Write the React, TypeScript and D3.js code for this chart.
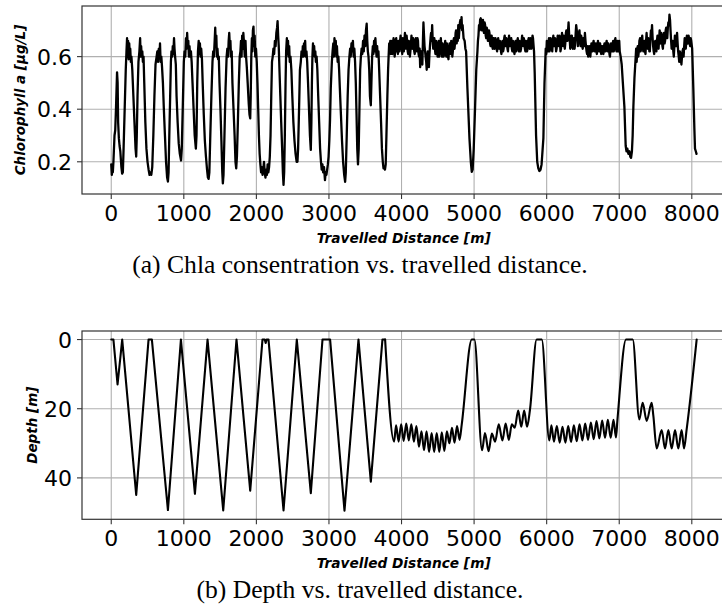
import React from 'react';
import * as d3 from 'd3';

const distanceTicks = [0, 1000, 2000, 3000, 4000, 5000, 6000, 7000, 8000];
const chlaTicks = [0.2, 0.4, 0.6];
const depthTicks = [0, 20, 40];

// Chl-a [distance m, value µg/L] – yo-yo section
const chlaYoyo: [number, number][] = [
  [0, 0.19], [8, 0.15], [15, 0.18], [22, 0.16], [30, 0.2], [45, 0.3], [55, 0.32], [65, 0.4], [80, 0.54], [88, 0.5],
  [95, 0.35], [105, 0.29], [115, 0.26], [125, 0.24], [140, 0.18], [150, 0.155], [160, 0.16], [170, 0.25], [185, 0.4],
  [200, 0.55], [210, 0.62], [218, 0.67], [225, 0.6], [232, 0.66], [240, 0.59], [248, 0.65], [256, 0.6], [262, 0.63],
  [270, 0.58], [278, 0.6], [290, 0.55], [305, 0.45], [320, 0.35], [335, 0.25], [344, 0.22], [352, 0.3], [362, 0.45],
  [375, 0.58], [388, 0.62], [398, 0.67], [405, 0.6], [412, 0.64], [420, 0.6], [428, 0.62], [436, 0.58], [445, 0.6],
  [455, 0.5], [470, 0.35], [485, 0.25], [500, 0.2], [515, 0.17], [528, 0.15], [540, 0.16], [552, 0.15], [565, 0.18],
  [580, 0.3], [595, 0.45], [610, 0.57], [625, 0.6], [635, 0.62], [645, 0.58], [655, 0.63], [665, 0.6], [672, 0.65],
  [680, 0.58], [690, 0.6], [700, 0.56], [712, 0.5], [725, 0.4], [740, 0.3], [755, 0.2], [770, 0.14], [781, 0.125],
  [790, 0.16], [800, 0.3], [812, 0.45], [822, 0.58], [830, 0.62], [840, 0.6], [848, 0.64], [856, 0.61], [865, 0.67],
  [872, 0.63], [880, 0.6], [890, 0.57], [900, 0.45], [915, 0.35], [930, 0.27], [945, 0.23], [962, 0.205], [972, 0.25],
  [985, 0.4], [1000, 0.58], [1010, 0.62], [1020, 0.6], [1030, 0.67], [1038, 0.63], [1046, 0.69], [1054, 0.64],
  [1062, 0.66], [1070, 0.6], [1078, 0.64], [1088, 0.6], [1098, 0.62], [1108, 0.58], [1120, 0.5], [1135, 0.4],
  [1150, 0.3], [1166, 0.25], [1175, 0.3], [1185, 0.5], [1195, 0.62], [1205, 0.66], [1213, 0.61], [1222, 0.65],
  [1230, 0.6], [1240, 0.63], [1250, 0.59], [1260, 0.5], [1275, 0.38], [1290, 0.28], [1305, 0.22], [1320, 0.17],
  [1332, 0.14], [1342, 0.135], [1352, 0.16], [1365, 0.3], [1380, 0.45], [1395, 0.58], [1405, 0.62], [1415, 0.6],
  [1425, 0.66], [1433, 0.71], [1440, 0.64], [1448, 0.68], [1456, 0.6], [1464, 0.63], [1472, 0.59], [1482, 0.6],
  [1492, 0.5], [1505, 0.4], [1518, 0.28], [1530, 0.16], [1538, 0.118], [1547, 0.15], [1560, 0.3], [1575, 0.48],
  [1590, 0.6], [1600, 0.63], [1610, 0.6], [1618, 0.66], [1626, 0.69], [1634, 0.64], [1642, 0.66], [1650, 0.6],
  [1660, 0.62], [1670, 0.5], [1685, 0.4], [1700, 0.3], [1712, 0.2], [1722, 0.175], [1732, 0.22], [1745, 0.35],
  [1758, 0.5], [1770, 0.6], [1780, 0.62], [1788, 0.66], [1796, 0.6], [1804, 0.68], [1812, 0.63], [1820, 0.69],
  [1830, 0.65], [1840, 0.6], [1850, 0.66], [1858, 0.6], [1868, 0.56], [1880, 0.5], [1895, 0.42], [1905, 0.38],
  [1915, 0.365], [1922, 0.45], [1930, 0.6], [1938, 0.67], [1945, 0.62], [1952, 0.7], [1960, 0.714], [1968, 0.64],
  [1976, 0.68], [1985, 0.6], [1995, 0.63], [2005, 0.58], [2015, 0.5], [2025, 0.4], [2035, 0.3], [2045, 0.23],
  [2055, 0.19], [2065, 0.16], [2075, 0.18], [2085, 0.15], [2095, 0.17], [2105, 0.2], [2115, 0.16], [2125, 0.14],
  [2135, 0.17], [2145, 0.15], [2155, 0.19], [2165, 0.16], [2175, 0.18], [2185, 0.22], [2195, 0.3], [2205, 0.45],
  [2215, 0.58], [2225, 0.6], [2235, 0.63], [2245, 0.61], [2255, 0.66], [2265, 0.64], [2275, 0.69], [2285, 0.71],
  [2292, 0.735], [2300, 0.68], [2308, 0.64], [2318, 0.55], [2330, 0.45], [2342, 0.35], [2355, 0.25], [2365, 0.16],
  [2374, 0.112], [2383, 0.16], [2392, 0.3], [2402, 0.5], [2410, 0.62], [2420, 0.67], [2428, 0.61], [2436, 0.66],
  [2444, 0.6], [2452, 0.64], [2460, 0.58], [2470, 0.6], [2482, 0.55], [2495, 0.45], [2510, 0.35], [2525, 0.28],
  [2540, 0.23], [2555, 0.2], [2566, 0.2], [2575, 0.25], [2588, 0.4], [2600, 0.55], [2612, 0.58], [2622, 0.62],
  [2632, 0.6], [2640, 0.64], [2648, 0.6], [2656, 0.65], [2664, 0.62], [2672, 0.66], [2680, 0.6], [2690, 0.62],
  [2700, 0.58], [2712, 0.5], [2725, 0.4], [2738, 0.3], [2750, 0.245], [2758, 0.35], [2765, 0.5], [2772, 0.6],
  [2780, 0.65], [2788, 0.61], [2796, 0.64], [2804, 0.6], [2812, 0.62], [2820, 0.58], [2830, 0.6], [2840, 0.55],
  [2852, 0.45], [2865, 0.35], [2878, 0.25], [2890, 0.2], [2900, 0.17], [2910, 0.19], [2920, 0.16], [2932, 0.18],
  [2945, 0.13], [2955, 0.16], [2965, 0.15], [2975, 0.17], [2985, 0.19], [2995, 0.22], [3005, 0.28], [3015, 0.36],
  [3025, 0.48], [3040, 0.58], [3050, 0.62], [3060, 0.65], [3068, 0.6], [3076, 0.67], [3085, 0.63], [3094, 0.66],
  [3102, 0.6], [3110, 0.64], [3120, 0.58], [3130, 0.6], [3140, 0.55], [3150, 0.48], [3165, 0.38], [3180, 0.28],
  [3195, 0.2], [3210, 0.15], [3223, 0.124], [3232, 0.16], [3245, 0.3], [3258, 0.45], [3270, 0.55], [3282, 0.6],
  [3292, 0.63], [3300, 0.6], [3310, 0.65], [3320, 0.62], [3330, 0.66], [3340, 0.6], [3350, 0.63], [3360, 0.58],
  [3370, 0.5], [3380, 0.38], [3390, 0.25], [3400, 0.19], [3410, 0.25], [3420, 0.4], [3430, 0.55], [3440, 0.6],
  [3450, 0.63], [3460, 0.61], [3470, 0.66], [3480, 0.62], [3490, 0.68], [3500, 0.64], [3510, 0.7], [3520, 0.725],
  [3528, 0.66], [3536, 0.62], [3545, 0.6], [3555, 0.55], [3565, 0.45], [3577, 0.415], [3585, 0.5], [3595, 0.6],
  [3605, 0.64], [3613, 0.61], [3622, 0.66], [3630, 0.62], [3640, 0.67], [3648, 0.63], [3656, 0.6], [3664, 0.64],
  [3672, 0.6], [3682, 0.62], [3692, 0.55], [3705, 0.45], [3718, 0.35], [3730, 0.25], [3742, 0.2], [3752, 0.175],
  [3762, 0.18], [3772, 0.17], [3782, 0.19], [3792, 0.3], [3805, 0.45], [3815, 0.55],
];

// Chl-a – surface-following section
const chlaGlide: [number, number][] = [
  [3822, 0.6], [3830, 0.65], [3837, 0.62], [3845, 0.66], [3852, 0.61], [3860, 0.64], [3867, 0.66], [3875, 0.61],
  [3882, 0.63], [3890, 0.67], [3897, 0.65], [3905, 0.6], [3912, 0.62], [3920, 0.66], [3927, 0.67], [3935, 0.62],
  [3942, 0.64], [3950, 0.61], [3957, 0.66], [3965, 0.64], [3972, 0.62], [3980, 0.66], [3987, 0.68], [3995, 0.63],
  [4002, 0.64], [4010, 0.61], [4017, 0.67], [4025, 0.64], [4032, 0.62], [4040, 0.66], [4047, 0.69], [4055, 0.65],
  [4062, 0.63], [4070, 0.68], [4077, 0.66], [4085, 0.62], [4092, 0.61], [4100, 0.66], [4107, 0.65], [4115, 0.6],
  [4122, 0.62], [4130, 0.65], [4137, 0.68], [4145, 0.64], [4152, 0.63], [4160, 0.67], [4167, 0.66], [4175, 0.62],
  [4182, 0.61], [4190, 0.65], [4197, 0.67], [4205, 0.63], [4212, 0.62], [4220, 0.67], [4227, 0.66], [4235, 0.61],
  [4242, 0.6], [4250, 0.63], [4257, 0.56], [4265, 0.6], [4272, 0.62], [4280, 0.59], [4287, 0.57], [4295, 0.66],
  [4302, 0.73], [4310, 0.68], [4317, 0.64], [4325, 0.62], [4332, 0.6], [4340, 0.58], [4347, 0.55], [4355, 0.6],
  [4362, 0.62], [4370, 0.58], [4377, 0.56], [4385, 0.61], [4392, 0.64], [4400, 0.67], [4407, 0.69], [4415, 0.66],
  [4422, 0.72], [4430, 0.66], [4437, 0.63], [4445, 0.65], [4452, 0.67], [4460, 0.63], [4467, 0.61], [4475, 0.66],
  [4482, 0.65], [4490, 0.62], [4497, 0.6], [4505, 0.64], [4512, 0.66], [4520, 0.6], [4527, 0.62], [4535, 0.65],
  [4542, 0.67], [4550, 0.63], [4557, 0.6], [4565, 0.65], [4572, 0.64], [4580, 0.6], [4587, 0.61], [4595, 0.64],
  [4602, 0.66], [4610, 0.62], [4617, 0.6], [4625, 0.65], [4632, 0.63], [4640, 0.6], [4647, 0.59], [4655, 0.63],
  [4662, 0.65], [4670, 0.62], [4677, 0.61], [4685, 0.66], [4692, 0.64], [4700, 0.6], [4707, 0.62], [4715, 0.66],
  [4722, 0.67], [4730, 0.63], [4737, 0.65], [4745, 0.69], [4752, 0.7], [4760, 0.65], [4767, 0.68], [4775, 0.66],
  [4782, 0.72], [4790, 0.67], [4797, 0.7], [4805, 0.73], [4812, 0.74], [4820, 0.71], [4827, 0.75], [4835, 0.7],
  [4842, 0.72], [4855, 0.67], [4870, 0.66], [4880, 0.63], [4890, 0.62], [4908, 0.48],
  [4936, 0.29], [4955, 0.2], [4968, 0.162], [4980, 0.17], [4995, 0.25], [5014, 0.41], [5030, 0.55], [5046, 0.62],
  [5053, 0.66], [5060, 0.68], [5068, 0.72], [5075, 0.7], [5083, 0.74], [5092, 0.746], [5100, 0.71], [5107, 0.7],
  [5115, 0.73], [5122, 0.74], [5130, 0.7], [5137, 0.69], [5145, 0.73], [5152, 0.72], [5160, 0.68], [5167, 0.67],
  [5175, 0.71], [5182, 0.7], [5190, 0.66], [5197, 0.66], [5205, 0.7], [5212, 0.69], [5220, 0.65], [5227, 0.64],
  [5235, 0.68], [5242, 0.68], [5250, 0.64], [5257, 0.63], [5265, 0.67], [5272, 0.67], [5280, 0.63], [5287, 0.64],
  [5295, 0.67], [5302, 0.66], [5310, 0.63], [5317, 0.62], [5325, 0.66], [5332, 0.67], [5340, 0.64], [5347, 0.63],
  [5355, 0.66], [5362, 0.65], [5370, 0.62], [5377, 0.61], [5385, 0.65], [5392, 0.66], [5400, 0.62], [5407, 0.63],
  [5415, 0.67], [5422, 0.68], [5430, 0.64], [5437, 0.64], [5445, 0.67], [5452, 0.66], [5460, 0.63], [5467, 0.62],
  [5475, 0.66], [5482, 0.68], [5490, 0.65], [5497, 0.64], [5505, 0.66], [5512, 0.67], [5520, 0.63], [5527, 0.62],
  [5535, 0.66], [5542, 0.65], [5550, 0.62], [5557, 0.61], [5565, 0.65], [5572, 0.66], [5580, 0.62], [5587, 0.63],
  [5595, 0.66], [5602, 0.67], [5610, 0.64], [5617, 0.62], [5625, 0.66], [5632, 0.65], [5640, 0.62], [5647, 0.63],
  [5655, 0.66], [5662, 0.68], [5670, 0.65], [5677, 0.64], [5685, 0.67], [5692, 0.66], [5700, 0.63], [5707, 0.62],
  [5715, 0.66], [5722, 0.65], [5730, 0.62], [5737, 0.63], [5745, 0.66], [5752, 0.67], [5760, 0.64], [5767, 0.63],
  [5775, 0.67], [5782, 0.66], [5790, 0.63], [5797, 0.65], [5805, 0.68], [5812, 0.67], [5820, 0.64], [5826, 0.62],
  [5835, 0.54], [5854, 0.3], [5870, 0.2], [5885, 0.175],
  [5900, 0.165], [5915, 0.17], [5930, 0.19], [5955, 0.29], [5970, 0.5], [5987, 0.63], [5995, 0.61], [6002, 0.66],
  [6010, 0.64], [6017, 0.62], [6025, 0.65], [6032, 0.67], [6040, 0.62], [6047, 0.63], [6055, 0.67], [6062, 0.66],
  [6070, 0.63], [6077, 0.62], [6085, 0.66], [6092, 0.68], [6100, 0.64], [6107, 0.64], [6115, 0.67], [6122, 0.66],
  [6130, 0.62], [6137, 0.63], [6145, 0.66], [6152, 0.68], [6160, 0.65], [6167, 0.64], [6175, 0.68], [6182, 0.67],
  [6190, 0.62], [6197, 0.63], [6205, 0.67], [6212, 0.69], [6220, 0.65], [6227, 0.64], [6235, 0.68], [6242, 0.67],
  [6250, 0.63], [6257, 0.65], [6265, 0.69], [6272, 0.7], [6280, 0.66], [6287, 0.66], [6295, 0.7], [6302, 0.73],
  [6310, 0.68], [6317, 0.67], [6325, 0.63], [6332, 0.64], [6340, 0.68], [6347, 0.68], [6355, 0.64], [6362, 0.63],
  [6370, 0.66], [6377, 0.67], [6385, 0.63], [6392, 0.65], [6400, 0.69], [6407, 0.72], [6415, 0.7], [6422, 0.68],
  [6430, 0.64], [6437, 0.66], [6445, 0.69], [6452, 0.7], [6460, 0.66], [6467, 0.64], [6475, 0.68], [6482, 0.67],
  [6490, 0.64], [6497, 0.63], [6505, 0.67], [6512, 0.66], [6520, 0.64], [6527, 0.69], [6535, 0.66], [6542, 0.64],
  [6550, 0.62], [6557, 0.61], [6565, 0.64], [6572, 0.6], [6580, 0.62], [6587, 0.64], [6595, 0.62], [6602, 0.6],
  [6610, 0.63], [6617, 0.65], [6625, 0.62], [6632, 0.62], [6640, 0.65], [6647, 0.66], [6655, 0.63], [6662, 0.62],
  [6670, 0.64], [6677, 0.65], [6685, 0.62], [6692, 0.61], [6700, 0.64], [6707, 0.66], [6715, 0.63], [6722, 0.62],
  [6730, 0.65], [6737, 0.65], [6745, 0.62], [6752, 0.61], [6760, 0.64], [6767, 0.64], [6775, 0.62], [6782, 0.61],
  [6790, 0.64], [6797, 0.65], [6805, 0.62], [6812, 0.62], [6820, 0.65], [6827, 0.66], [6835, 0.63], [6842, 0.62],
  [6850, 0.65], [6857, 0.64], [6865, 0.61], [6872, 0.6], [6880, 0.63], [6887, 0.65], [6895, 0.63], [6902, 0.62],
  [6910, 0.65], [6917, 0.66], [6925, 0.62], [6932, 0.63], [6940, 0.66], [6947, 0.67], [6955, 0.64], [6962, 0.62],
  [6970, 0.65], [6977, 0.66], [6985, 0.62], [6992, 0.64], [7000, 0.66], [7007, 0.62], [7020, 0.6], [7034, 0.57],
  [7050, 0.5], [7071, 0.41], [7089, 0.26], [7100, 0.24],
  [7112, 0.25], [7126, 0.23], [7140, 0.24], [7152, 0.22], [7163, 0.215], [7175, 0.24], [7185, 0.3], [7195, 0.41],
  [7210, 0.52], [7227, 0.6], [7233, 0.63], [7240, 0.58], [7248, 0.62], [7255, 0.64], [7262, 0.6], [7270, 0.62],
  [7278, 0.66], [7287, 0.67], [7295, 0.62], [7302, 0.63], [7310, 0.66], [7317, 0.68], [7325, 0.64], [7332, 0.62],
  [7340, 0.65], [7347, 0.66], [7355, 0.62], [7362, 0.61], [7370, 0.66], [7377, 0.69], [7385, 0.65], [7392, 0.63],
  [7400, 0.67], [7407, 0.66], [7415, 0.62], [7422, 0.62], [7430, 0.67], [7437, 0.7], [7445, 0.68], [7452, 0.72],
  [7460, 0.67], [7467, 0.64], [7475, 0.62], [7482, 0.61], [7490, 0.65], [7497, 0.66], [7505, 0.63], [7512, 0.62],
  [7520, 0.66], [7527, 0.68], [7535, 0.65], [7542, 0.63], [7550, 0.67], [7557, 0.7], [7565, 0.66], [7572, 0.65],
  [7580, 0.69], [7587, 0.68], [7595, 0.64], [7602, 0.63], [7610, 0.67], [7617, 0.69], [7625, 0.65], [7632, 0.66],
  [7640, 0.7], [7647, 0.71], [7655, 0.67], [7662, 0.67], [7670, 0.71], [7677, 0.73], [7685, 0.72], [7692, 0.76],
  [7700, 0.74], [7707, 0.7], [7715, 0.66], [7722, 0.63], [7730, 0.65], [7737, 0.66], [7745, 0.62], [7752, 0.6],
  [7760, 0.64], [7767, 0.68], [7775, 0.66], [7782, 0.64], [7790, 0.67], [7797, 0.69], [7805, 0.65], [7812, 0.62],
  [7820, 0.6], [7827, 0.58], [7835, 0.62], [7842, 0.61], [7850, 0.59], [7857, 0.57], [7865, 0.6], [7872, 0.62],
  [7880, 0.63], [7887, 0.6], [7895, 0.64], [7902, 0.67], [7910, 0.65], [7917, 0.63], [7925, 0.66], [7932, 0.68],
  [7940, 0.66], [7947, 0.65], [7955, 0.68], [7962, 0.67], [7970, 0.65], [7977, 0.64], [7985, 0.67], [7992, 0.66],
  [8005, 0.63], [8021, 0.48], [8035, 0.33], [8044, 0.25], [8055, 0.24], [8065, 0.23],
];

// Depth [distance m, depth m]
const depthYoyo: [number, number][] = [
  [0, 0], [30, 0], [87, 13], [151, 0], [344, 44.9], [514, 0], [560, 0], [781, 49.3], [960, 0], [1153, 44.6],
  [1327, 0], [1543, 49.4], [1726, 0], [1915, 43.7], [2084, 0], [2115, 0], [2128, 1], [2141, 0], [2167, 0],
  [2374, 49.4], [2557, 0], [2750, 44.4], [2911, 0], [3016, 0], [3214, 49.5], [3407, 0], [3577, 41.1], [3737, 0],
  [3774, 0],
];
const depthGlide: [number, number][] = [
  [3774, 0], [3898, 29.5], [3925, 24.8], [3960, 29.5], [3995, 24.5], [4030, 29.3], [4065, 24.3], [4100, 29.2],
  [4135, 24.5], [4170, 29.5], [4205, 25], [4240, 31], [4275, 26.5], [4310, 32], [4345, 26.5], [4380, 32.5],
  [4415, 27], [4450, 32.5], [4485, 27], [4520, 32.5], [4555, 26.8], [4590, 32.2], [4625, 26.5], [4660, 30],
  [4695, 25.5], [4730, 29.8], [4765, 25], [4800, 29], [4830, 24.5], [4968, 0], [5004, 0],
  [5110, 32], [5150, 27], [5200, 32.3], [5245, 27.2], [5290, 29.5], [5340, 24.5], [5390, 29.2], [5435, 24.3],
  [5478, 29], [5520, 24.5], [5560, 25.5], [5608, 20.5], [5650, 25.2], [5690, 20.5], [5730, 25.2], [5770, 20.3],
  [5862, 0], [5932, 0],
  [6037, 29.2], [6065, 24.8], [6100, 29.5], [6140, 25], [6180, 29.8], [6218, 25.2], [6258, 29.8], [6297, 25],
  [6336, 29.6], [6375, 24.8], [6414, 29.4], [6453, 24.5], [6492, 29.2], [6531, 24.3], [6570, 29], [6609, 24],
  [6648, 28.8], [6687, 23.6], [6726, 28.6], [6765, 23.4], [6804, 28.4], [6843, 23.2], [6882, 28.4], [6921, 23.2],
  [6955, 28.3], [6975, 23.3], [7094, 0], [7186, 0],
  [7277, 23.1], [7323, 18.3], [7378, 23.5], [7447, 18.3], [7470, 22], [7516, 31.5], [7585, 26.2], [7631, 31.5],
  [7677, 26.2], [7723, 31.5], [7769, 26.2], [7814, 31.5], [7860, 26.2], [7893, 31.5], [7929, 26], [8067, 0],
];

const chlaData = [...chlaYoyo, ...chlaGlide];

const SANS = 'DejaVu Sans';
const SERIF = 'Liberation Serif';

export default function App() {
  const W = 722;
  const H = 616;
  const left = 82;
  const right = 725.4;
  const x = d3.scaleLinear().domain([-403, 8463]).range([left, right]);
  const top1 = 6, bot1 = 194;
  const top2 = 331, bot2 = 519.3;
  const yC = d3.scaleLinear().domain([0.0775, 0.7925]).range([bot1, top1]);
  const yD = d3.scaleLinear().domain([-2.47, 51.97]).range([top2, bot2]);

  const lineC = d3.line<[number, number]>().x((d) => x(d[0])).y((d) => yC(d[1]));
  const lineD = d3.line<[number, number]>().x((d) => x(d[0])).y((d) => yD(d[1]));
  const lineDSmooth = d3
    .line<[number, number]>()
    .x((d) => x(d[0]))
    .y((d) => yD(d[1]))
    .curve(d3.curveMonotoneX);

  const grid = '#b0b0b0';
  const spine = '#333';

  const panel = (
    top: number,
    bot: number,
    y: d3.ScaleLinear<number, number>,
    yTicks: number[],
    fmt: (v: number) => string,
    paths: { d: string; w: number }[],
    yLabel: string,
    yLabelX: number,
    caption: string,
    captionY: number
  ) => (
    <g>
      <defs>
        <clipPath id={`clip${top}`}>
          <rect x={left} y={top} width={right - left} height={bot - top} />
        </clipPath>
      </defs>
      {distanceTicks.map((t) => (
        <line key={`gx${t}`} x1={x(t)} x2={x(t)} y1={top} y2={bot} stroke={grid} strokeWidth={1.1} />
      ))}
      {yTicks.map((t) => (
        <line key={`gy${t}`} x1={left} x2={right} y1={y(t)} y2={y(t)} stroke={grid} strokeWidth={1.1} />
      ))}
      {paths.map((p, i) => (
        <path
          key={i}
          d={p.d}
          fill="none"
          stroke="#000"
          strokeWidth={p.w}
          strokeLinejoin="round"
          strokeLinecap="round"
          clipPath={`url(#clip${top})`}
        />
      ))}
      <rect x={left} y={top} width={right - left} height={bot - top} fill="none" stroke={spine} strokeWidth={1.2} />
      {distanceTicks.map((t) => (
        <g key={`tx${t}`}>
          <line x1={x(t)} x2={x(t)} y1={bot} y2={bot + 5} stroke={spine} strokeWidth={1.1} />
          <text x={x(t)} y={bot + 27} textAnchor="middle" fontFamily={SANS} fontSize={22} fill="#000">
            {t}
          </text>
        </g>
      ))}
      {yTicks.map((t) => (
        <g key={`ty${t}`}>
          <line x1={left - 5} x2={left} y1={y(t)} y2={y(t)} stroke={spine} strokeWidth={1.1} />
          <text x={left - 10} y={y(t) + 8} textAnchor="end" fontFamily={SANS} fontSize={22} fill="#000">
            {fmt(t)}
          </text>
        </g>
      ))}
      <text
        x={(left + right) / 2}
        y={bot + 49}
        textAnchor="middle"
        fontFamily={SANS}
        fontSize={13.7}
        fontWeight="bold"
        fontStyle="italic"
        fill="#000"
      >
        Travelled Distance [m]
      </text>
      <text
        transform={`translate(${yLabelX},${(top + bot) / 2}) rotate(-90)`}
        textAnchor="middle"
        fontFamily={SANS}
        fontSize={13.5}
        fontWeight="bold"
        fontStyle="italic"
        fill="#000"
      >
        {yLabel}
      </text>
      <text x={360} y={captionY} textAnchor="middle" fontFamily={SERIF} fontSize={25.6} fill="#000">
        {caption}
      </text>
    </g>
  );

  return (
    <svg
      width={W}
      height={H}
      viewBox={`0 0 ${W} ${H}`}
      style={{ position: 'absolute', left: 0, top: 0, background: '#fff' }}
    >
      <rect x={0} y={0} width={W} height={H} fill="#fff" />
      {panel(top1, bot1, yC, chlaTicks, (v) => v.toFixed(1), [{ d: lineC(chlaData) || '', w: 2.3 }],
        'Chlorophyll a [μg/L]', 25, '(a) Chla consentration vs. travelled distance.', 273)}
      {panel(
        top2,
        bot2,
        yD,
        depthTicks,
        (v) => String(v),
        [
          { d: lineD(depthYoyo) || '', w: 2.1 },
          { d: lineDSmooth(depthGlide) || '', w: 2.1 },
        ],
        'Depth [m]',
        37,
        '(b) Depth vs. travelled distance.',
        598
      )}
    </svg>
  );
}
